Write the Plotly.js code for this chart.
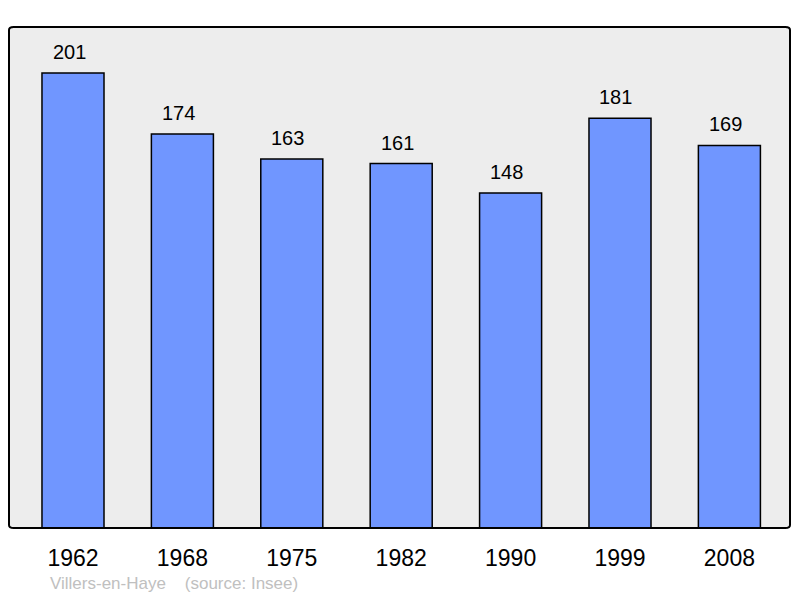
<!DOCTYPE html>
<html><head><meta charset="utf-8">
<script src="https://cdn.plot.ly/plotly-3.0.1.min.js"></script>
<style>html,body{margin:0;padding:0;background:#fff;}#chart{width:800px;height:598px;}</style>
</head><body><div id="chart"></div>
<script>
const years = ["1962","1968","1975","1982","1990","1999","2008"];
const population = [201,174,163,161,148,181,169];
const positions = years.map((_, i) => i);

const trace = {
  type: 'bar',
  x: positions,
  y: population,
  width: 0.567,
  marker: {color: '#7096ff', line: {color: '#000', width: 1.5}},
  hoverinfo: 'none'
};

const annotations = population.map((v, i) => ({
  x: i, y: v, xref: 'x', yref: 'y', text: String(v), showarrow: false,
  yanchor: 'bottom', yshift: 8, xshift: -4,
  font: {family: 'Liberation Sans, Arial, sans-serif', size: 20, color: '#000'}
}));
annotations.push({
  xref: 'paper', yref: 'paper', x: 0.05, y: -0.11, xanchor: 'left', yanchor: 'middle',
  showarrow: false, text: 'Villers-en-Haye&nbsp;&nbsp;&nbsp;&nbsp;(source: Insee)',
  font: {family: 'Liberation Sans, Arial, sans-serif', size: 17, color: '#c0c0c0'}
});

const layout = {
  width: 800, height: 598,
  margin: {l: 9, r: 10, t: 27, b: 70, pad: 0},
  paper_bgcolor: '#fff',
  plot_bgcolor: '#ededed',
  showlegend: false,
  xaxis: {
    range: [-0.585, 6.554], tickvals: positions, ticktext: years,
    showgrid: false, zeroline: false, showline: false, ticks: '',
    ticklabelstandoff: 14,
    tickfont: {family: 'Liberation Sans, Arial, sans-serif', size: 23, color: '#000'}
  },
  yaxis: {range: [0, 221.3], showgrid: false, zeroline: false, showticklabels: false, showline: false, ticks: ''},
  annotations: annotations,
  shapes: [{
    type: 'path', xref: 'paper', yref: 'paper', layer: 'above',
    path: 'M 0.006,0 L 0.994,0 Q 1,0 1,0.006 L 1,0.994 Q 1,1 0.994,1 L 0.006,1 Q 0,1 0,0.994 L 0,0.006 Q 0,0 0.006,0 Z',
    line: {color: '#000', width: 2}
  }]
};

Plotly.newPlot('chart', [trace], layout, {staticPlot: true});
</script></body></html>
